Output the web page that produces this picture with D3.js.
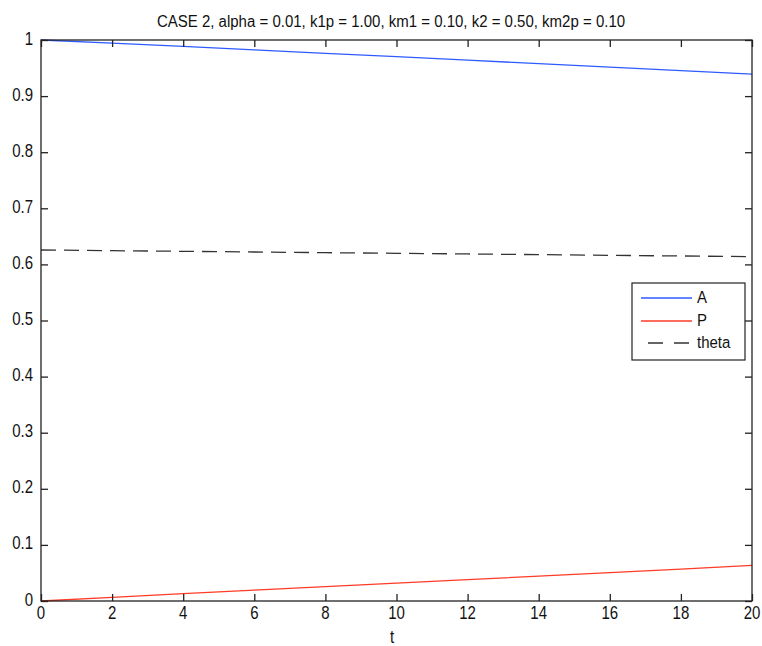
<!DOCTYPE html>
<html>
<head>
<meta charset="utf-8">
<script src="https://cdn.jsdelivr.net/npm/d3@7"></script>
<style>
  html, body { margin: 0; padding: 0; background: #fff; }
  svg { display: block; }
  text { font-family: "Liberation Sans", Arial, sans-serif; fill: #111; }
</style>
</head>
<body>
<svg id="chart" width="762" height="646"></svg>
<script>
// ---- data ----
const tValues = [0, 2, 4, 6, 8, 10, 12, 14, 16, 18, 20];
const seriesA = [1.000, 0.9945, 0.9885, 0.9825, 0.9763, 0.9702, 0.9640, 0.9578, 0.9515, 0.9453, 0.9390];
const seriesP = [0.000, 0.0065, 0.0130, 0.0195, 0.0256, 0.0318, 0.0381, 0.0443, 0.0505, 0.0568, 0.0635];
const seriesTheta = [0.6257, 0.6245, 0.6233, 0.6221, 0.6209, 0.6198, 0.6186, 0.6174, 0.6162, 0.6150, 0.6138];
const xTicks = [0, 2, 4, 6, 8, 10, 12, 14, 16, 18, 20];
const yTicks = [0, 0.1, 0.2, 0.3, 0.4, 0.5, 0.6, 0.7, 0.8, 0.9, 1];
const seriesNames = ["A", "P", "theta"];
const titleText = "CASE 2, alpha = 0.01, k1p = 1.00, km1 = 0.10, k2 = 0.50, km2p = 0.10";
const xLabel = "t";

// ---- layout ----
const svg = d3.select("#chart");
const L = 41, R = 752, T = 40, B = 601;
const x = d3.scaleLinear().domain([0, 20]).range([L, R]);
const y = d3.scaleLinear().domain([0, 1]).range([B, T]);
const tickLen = 7;
const axisColor = "#222";

// text helper: tall, narrow look of the original raster font
function vtext(parent, px, py, str, size, sy, anchor) {
  return parent.append("text")
    .attr("transform", `translate(${px},${py}) scale(1,${sy})`)
    .attr("text-anchor", anchor || "start")
    .attr("font-size", size)
    .text(str);
}

// lines (drawn first; the box is drawn on top, as in the original)
const mk = vals => tValues.map((t, i) => ({ t, v: vals[i] }));
const line = d3.line().x(d => x(d.t)).y(d => y(d.v));
const colors = ["#2e5bff", "#ff3b26", "#333"];
const dashes = [null, null, "15,8"];
[seriesA, seriesP, seriesTheta].forEach((s, i) => {
  svg.append("path").datum(mk(s)).attr("d", line)
    .attr("fill", "none").attr("stroke", colors[i]).attr("stroke-width", 1.3)
    .attr("stroke-dasharray", dashes[i]);
});

// frame
svg.append("rect").attr("x", L).attr("y", T).attr("width", R - L).attr("height", B - T)
  .attr("fill", "none").attr("stroke", axisColor).attr("stroke-width", 1.3);

// axes (ticks inward, labels drawn separately with the same scales)
const gB = svg.append("g").attr("transform", `translate(0,${B})`)
  .call(d3.axisBottom(x).tickValues(xTicks).tickFormat("").tickSizeInner(-tickLen).tickSizeOuter(0));
const gT = svg.append("g").attr("transform", `translate(0,${T})`)
  .call(d3.axisTop(x).tickValues(xTicks).tickFormat("").tickSizeInner(-tickLen).tickSizeOuter(0));
const gL = svg.append("g").attr("transform", `translate(${L},0)`)
  .call(d3.axisLeft(y).tickValues(yTicks).tickFormat("").tickSizeInner(-tickLen).tickSizeOuter(0));
const gR = svg.append("g").attr("transform", `translate(${R},0)`)
  .call(d3.axisRight(y).tickValues(yTicks).tickFormat("").tickSizeInner(-tickLen).tickSizeOuter(0));
[gB, gT, gL, gR].forEach(g => {
  g.select(".domain").remove();
  g.selectAll(".tick line").attr("stroke", axisColor).attr("stroke-width", 1.3);
  g.selectAll("text").remove();
});

const fmtX = d => String(d);
const fmtY = d => d === 0 ? "0" : d === 1 ? "1" : d3.format(".1f")(d);
const labels = svg.append("g");
xTicks.forEach(d => vtext(labels, x(d), 619, fmtX(d), 15, 1.25, "middle"));
yTicks.forEach(d => vtext(labels, 33, y(d) + 4.5, fmtY(d), 15, 1.25, "end"));

// title & x label
vtext(svg, 391, 26.5, titleText, 15, 1.08, "middle");
vtext(svg, 392, 643, xLabel, 15, 1.25, "middle");

// legend
const lg = svg.append("g");
lg.append("rect").attr("x", 632).attr("y", 283).attr("width", 113).attr("height", 77)
  .attr("fill", "#fff").attr("stroke", axisColor).attr("stroke-width", 1.2);
const rowsY = [298, 321, 343];
seriesNames.forEach((name, i) => {
  if (i < 2) {
    lg.append("line").attr("x1", 641).attr("x2", 692).attr("y1", rowsY[i]).attr("y2", rowsY[i])
      .attr("stroke", colors[i]).attr("stroke-width", 1.3);
  } else {
    lg.append("line").attr("x1", 648).attr("x2", 689).attr("y1", rowsY[i]).attr("y2", rowsY[i])
      .attr("stroke", colors[i]).attr("stroke-width", 1.3).attr("stroke-dasharray", "15,11");
  }
  vtext(lg, 697, rowsY[i] + 5, name, 15, 1.1, "start");
});
</script>
</body>
</html>
